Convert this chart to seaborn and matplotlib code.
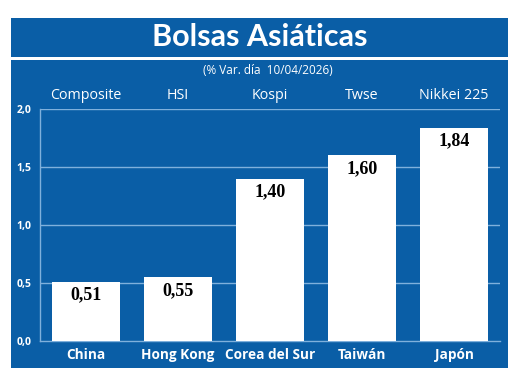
import matplotlib
matplotlib.use("Agg")
import matplotlib.pyplot as plt
import seaborn as sns
import pandas as pd
from matplotlib.patches import Rectangle

countries = ["China", "Hong Kong", "Corea del Sur", "Taiwán", "Japón"]
indices = ["Composite", "HSI", "Kospi", "Twse", "Nikkei 225"]
values = [0.51, 0.55, 1.40, 1.60, 1.84]
yticks = [0.0, 0.5, 1.0, 1.5, 2.0]
ytick_labels = ["0,0", "0,5", "1,0", "1,5", "2,0"]
title = "Bolsas Asiáticas"
subtitle = "(% Var. día  10/04/2026)"

BLUE = "#0a5ea6"
LINE = "#7fb0dc"

sns.set_theme(style="white")
plt.rcParams["font.family"] = ["Open Sans", "DejaVu Sans"]

W, H = 520, 383
fig = plt.figure(figsize=(W / 100, H / 100), dpi=100)
fig.patch.set_facecolor("white")

def fx(x):
    return x / W

def fy(y):
    return 1 - y / H

# Title box
fig.add_artist(Rectangle((fx(11), fy(57)), fx(508 - 11), (57 - 18) / H,
                         transform=fig.transFigure, facecolor=BLUE, edgecolor="none", zorder=0))
# Body box
fig.add_artist(Rectangle((fx(11), fy(368)), fx(508 - 11), (368 - 60) / H,
                         transform=fig.transFigure, facecolor=BLUE, edgecolor="none", zorder=0))

fig.text(fx(260), fy(37), title, color="white", fontsize=22, fontweight="bold",
         ha="center", va="center", family=["Lato", "DejaVu Sans"])
fig.text(fx(268), fy(71), subtitle, color="white", fontsize=8.5,
         ha="center", va="center", family=["Open Sans", "DejaVu Sans"])

ax = fig.add_axes([fx(40), fy(341), fx(500 - 40), (341 - 109) / H])
ax.set_facecolor("none")

df = pd.DataFrame({"country": countries, "value": values})
sns.barplot(data=df, x="country", y="value", color="white", saturation=1,
            width=0.73, ax=ax, edgecolor="none", zorder=3)

ax.set_xlim(-0.5, len(countries) - 0.5)
ax.set_ylim(0, 2.0)
ax.set_yticks(yticks)
ax.set_yticklabels(ytick_labels, color="white", fontsize=7.5, fontweight="bold")
ax.tick_params(axis="y", length=0, pad=6)
for yv in yticks[1:]:
    ax.axhline(yv, color=LINE, lw=1, zorder=1)

ax.set_xticks(range(len(countries)))
ax.set_xticklabels(countries, color="white", fontsize=9.8, fontweight="bold")
ax.tick_params(axis="x", length=0, pad=5)
ax.set_xticks([i + 0.5 for i in range(len(countries))], minor=True)
ax.tick_params(axis="x", which="minor", direction="in", length=3, color=LINE, width=1)
ax.set_xlabel("")
ax.set_ylabel("")

for s in ["top", "right"]:
    ax.spines[s].set_visible(False)
for s in ["left", "bottom"]:
    ax.spines[s].set_color(LINE)
    ax.spines[s].set_linewidth(1)

# index names above plot
for i, name in enumerate(indices):
    ax.text(i, 2.12, name, color="white", fontsize=10.3, ha="center", va="center",
            transform=ax.transData, clip_on=False)

# value labels
for i, v in enumerate(values):
    ax.text(i, v - 0.115, f"{v:.2f}".replace(".", ","), color="black", fontsize=13,
            fontweight="bold", ha="center", va="center",
            family=["Liberation Serif", "DejaVu Serif"], zorder=4)

fig.savefig("out.png", dpi=100, facecolor="white")
